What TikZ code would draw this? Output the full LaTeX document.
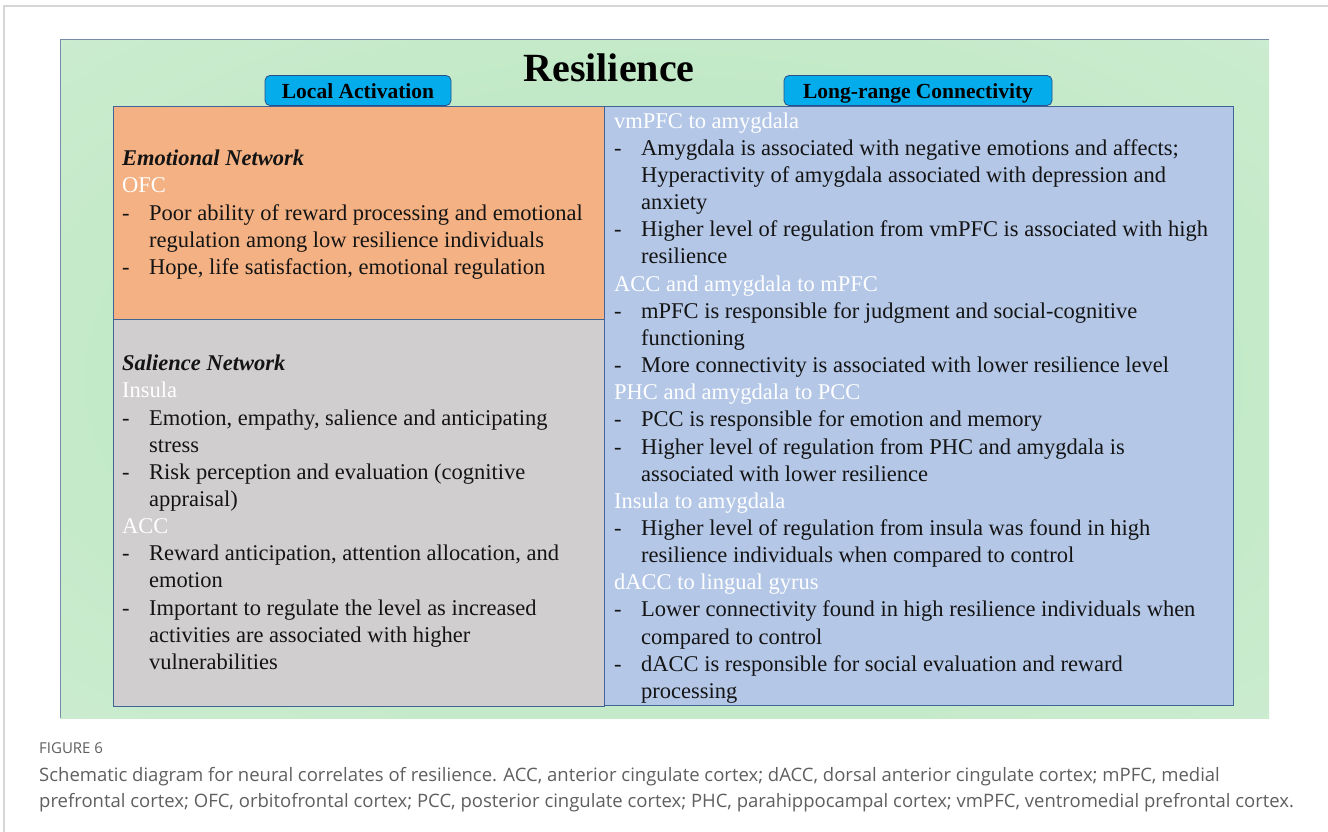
\documentclass[tikz,border=0pt]{standalone}
\usepackage{fontspec}
\setmainfont{Liberation Serif}
\newfontfamily\capfont{Open Sans}
\definecolor{gin}{RGB}{193,233,198}
\definecolor{gmid}{RGB}{208,237,212}
\definecolor{gout}{RGB}{234,245,236}
\definecolor{orangebox}{RGB}{244,177,131}
\definecolor{graybox}{RGB}{208,206,206}
\definecolor{bluebox}{RGB}{180,199,231}
\definecolor{boxline}{RGB}{65,100,150}
\definecolor{btnfill}{RGB}{5,172,235}
\definecolor{btnline}{RGB}{40,80,140}
\definecolor{panelline}{RGB}{120,140,170}
\definecolor{framegray}{RGB}{214,214,214}
\definecolor{captext}{RGB}{95,95,95}
\definecolor{bodytext}{RGB}{20,20,20}
\pgfdeclareradialshading{greenbg}{\pgfpoint{0bp}{0bp}}{color(0bp)=(gin); color(20bp)=(gin); color(44bp)=(gmid); color(62bp)=(gout); color(75bp)=(gout)}
\newcommand\dl{\makebox[27pt][l]{-}}
\newcommand\cl{\hspace*{27pt}}
\newcommand\hd[1]{\textcolor{white}{#1}}
\newcommand\fst{\rule{0pt}{20pt}}
\tikzset{
  panelbox/.style={draw=boxline, line width=1.1pt},
  btn/.style={draw=btnline, line width=0.8pt, fill=btnfill, rounded corners=5pt, inner sep=0pt,
    text height=23pt, text depth=7pt, minimum height=30pt, font=\fontsize{21.5}{24}\selectfont\bfseries, text=black},
  bodytxt/.style={anchor=north west, inner sep=0pt, align=left, text=bodytext, font=\fontsize{22.5}{27.15}\selectfont},
}
\begin{document}
\begin{tikzpicture}[x=1pt,y=-1pt]
\useasboundingbox (0,0) rectangle (1328,832);
\fill[white] (0,0) rectangle (1328,832);
% outer frame
\draw[framegray, line width=1.5pt] (4,832) -- (4,6) -- (1328,6);
% green panel
\shade[shading=greenbg] (60,40) rectangle (1269,718);
\draw[panelline, line width=1pt] (60,718) -- (60,40) -- (1269,40);
% title
\node[anchor=base, inner sep=0pt, font=\fontsize{40}{44}\selectfont\bfseries] (title) at (609,82) {Resilience};
% boxes
\node[panelbox, fill=orangebox, anchor=north west, minimum width=491pt, minimum height=213pt, inner sep=0pt] (emo) at (113,106) {};
\node[panelbox, fill=graybox, anchor=north west, minimum width=491pt, minimum height=387pt, inner sep=0pt] (sal) at (113,319) {};
\node[panelbox, fill=bluebox, anchor=north west, minimum width=629pt, minimum height=599pt, inner sep=0pt] (conn) at (604,106) {};
% buttons
\node[btn, minimum width=186pt] (local) at (358,90.5) {Local Activation};
\node[btn, minimum width=268pt] (long) at (918,90.5) {Long-range Connectivity};
% emotional network text
\node[bodytxt] (emotxt) at (122,145.5) {\fst\textbf{\textit{Emotional Network}}\\
\hd{OFC}\\
\dl Poor ability of reward processing and emotional\\
\cl regulation among low resilience individuals\\
\dl Hope, life satisfaction, emotional regulation};
% salience network text
\node[bodytxt] (saltxt) at (122,350.5) {\fst\textbf{\textit{Salience Network}}\\
\hd{Insula}\\
\dl Emotion, empathy, salience and anticipating\\
\cl stress\\
\dl Risk perception and evaluation (cognitive\\
\cl appraisal)\\
\hd{ACC}\\
\dl Reward anticipation, attention allocation, and\\
\cl emotion\\
\dl Important to regulate the level as increased\\
\cl activities are associated with higher\\
\cl vulnerabilities};
% connectivity text
\node[bodytxt] (conntxt) at (614,108) {\fst\hd{vmPFC to amygdala}\\
\dl Amygdala is associated with negative emotions and affects;\\
\cl Hyperactivity of amygdala associated with depression and\\
\cl anxiety\\
\dl Higher level of regulation from vmPFC is associated with high\\
\cl resilience\\
\hd{ACC and amygdala to mPFC}\\
\dl mPFC is responsible for judgment and social-cognitive\\
\cl functioning\\
\dl More connectivity is associated with lower resilience level\\
\hd{PHC and amygdala to PCC}\\
\dl PCC is responsible for emotion and memory\\
\dl Higher level of regulation from PHC and amygdala is\\
\cl associated with lower resilience\\
\hd{Insula to amygdala}\\
\dl Higher level of regulation from insula was found in high\\
\cl resilience individuals when compared to control\\
\hd{dACC to lingual gyrus}\\
\dl Lower connectivity found in high resilience individuals when\\
\cl compared to control\\
\dl dACC is responsible for social evaluation and reward\\
\cl processing};
% caption
\node[anchor=base west, inner sep=0pt, text=captext, font=\capfont\fontsize{15}{17}\selectfont] (fig) at (39,753.5) {FIGURE 6};
\node[anchor=north west, inner sep=0pt, align=left, text=captext, font=\capfont\fontsize{18.5}{26}\selectfont] (cap) at (39,767) {\rule{0pt}{14pt}Schematic diagram for neural correlates of resilience. ACC, anterior cingulate cortex; dACC, dorsal anterior cingulate cortex; mPFC, medial\\
prefrontal cortex; OFC, orbitofrontal cortex; PCC, posterior cingulate cortex; PHC, parahippocampal cortex; vmPFC, ventromedial prefrontal cortex.};
\end{tikzpicture}
\end{document}
